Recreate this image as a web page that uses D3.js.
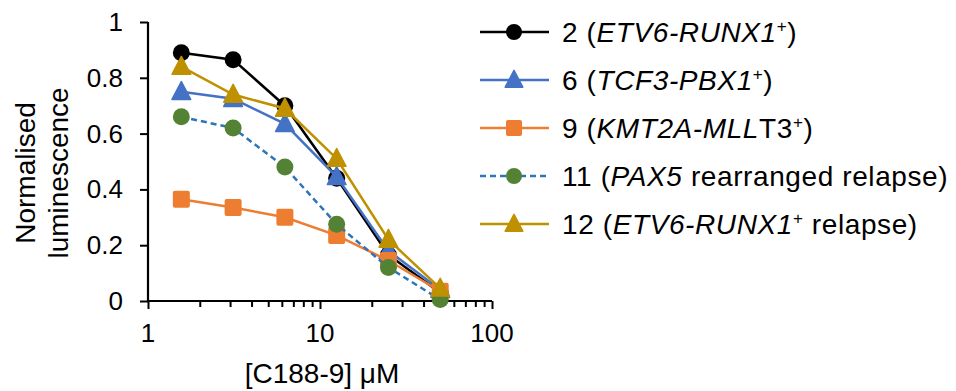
<!DOCTYPE html>
<html>
<head>
<meta charset="utf-8">
<script src="https://cdn.jsdelivr.net/npm/d3@7"></script>
<style>
  body { margin: 0; background: #fff; }
  text { font-family: Arial, "Liberation Sans", sans-serif; fill: #000; }
</style>
</head>
<body>
<div id="chart"></div>
<script>
// concentrations (uM)
var conc = [1.5625, 3.125, 6.25, 12.5, 25, 50];

var s2  = [0.89, 0.865, 0.70, 0.44, 0.165, 0.03];
var s6  = [0.75, 0.725, 0.635, 0.445, 0.18, 0.04];
var s9  = [0.365, 0.335, 0.30, 0.235, 0.145, 0.035];
var s11 = [0.66, 0.62, 0.48, 0.275, 0.12, 0.005];
var s12 = [0.84, 0.74, 0.69, 0.51, 0.22, 0.045];

var yTicks = [0, 0.2, 0.4, 0.6, 0.8, 1];
var xTicks = [1, 10, 100];

// legend label pieces: [text, italic?, superscript?]
var series = [
  {vals: s2,  line: "#000000", fill: "#000000", marker: "circle",   dash: null,
   label: [["2 (", 0], ["ETV6-RUNX1", 1], ["+", 0, 1], [")", 0]]},
  {vals: s6,  line: "#4472C4", fill: "#4472C4", marker: "triangle", dash: null,
   label: [["6 (", 0], ["TCF3-PBX1", 1], ["+", 0, 1], [")", 0]]},
  {vals: s9,  line: "#ED7D31", fill: "#ED7D31", marker: "square",   dash: null,
   label: [["9 (", 0], ["KMT2A-MLL", 1], ["T3", 0], ["+", 0, 1], [")", 0]]},
  {vals: s11, line: "#2E75B6", fill: "#548235", marker: "circle",   dash: "6,4",
   label: [["11 (", 0], ["PAX5", 1], [" rearranged relapse)", 0]]},
  {vals: s12, line: "#BF9000", fill: "#BF9000", marker: "triangle", dash: null,
   label: [["12 (", 0], ["ETV6-RUNX1", 1], ["+", 0, 1], [" relapse)", 0]]}
];

var W = 956, H = 391;
var svg = d3.select("#chart").append("svg")
    .attr("width", W).attr("height", H);

var x = d3.scaleLog().domain([1, 100]).range([148, 492]);
var y = d3.scaleLinear().domain([0, 1]).range([301, 22]);

// y axis (ticks from d3, labels drawn separately)
var yAxis = svg.append("g")
    .attr("transform", "translate(148,0)")
    .call(d3.axisLeft(y).tickValues(yTicks).tickFormat("").tickSize(8));
yAxis.select(".domain").attr("stroke-width", 2.2).attr("d", "M0," + y(1) + "V" + y(0));
yAxis.selectAll(".tick line").attr("stroke-width", 2);
yAxis.selectAll(".tick text").remove();

svg.append("g").selectAll("text")
    .data(yTicks).enter().append("text")
    .attr("x", 123)
    .attr("y", function(d) { return y(d) + 9; })
    .attr("text-anchor", "end")
    .style("font-size", "26px")
    .text(function(d) { return d3.format("")(d); });

// x axis
var minor = [];
[1, 10].forEach(function(d) { for (var i = 2; i <= 9; i++) minor.push(d * i); });
var xMinor = svg.append("g")
    .attr("transform", "translate(0,301)")
    .call(d3.axisBottom(x).tickValues(minor).tickFormat("").tickSize(6));
xMinor.select(".domain").remove();
xMinor.selectAll(".tick line").attr("stroke-width", 2);

var xAxis = svg.append("g")
    .attr("transform", "translate(0,301)")
    .call(d3.axisBottom(x).tickValues(xTicks).tickFormat("").tickSize(8));
xAxis.select(".domain").attr("stroke-width", 2.2).attr("d", "M" + x(1) + ",0H" + x(100));
xAxis.selectAll(".tick line").attr("stroke-width", 2);
xAxis.selectAll(".tick text").remove();

svg.append("g").selectAll("text")
    .data(xTicks).enter().append("text")
    .attr("x", function(d) { return x(d); })
    .attr("y", 342)
    .attr("text-anchor", "middle")
    .style("font-size", "26px")
    .text(function(d) { return d; });

// axis titles
svg.append("text")
    .attr("x", 322).attr("y", 383)
    .attr("text-anchor", "middle")
    .style("font-size", "28px")
    .text("[C188-9] \u03BCM");

var yt = svg.append("text")
    .attr("transform", "translate(35,173) rotate(-90)")
    .attr("text-anchor", "middle")
    .style("font-size", "28px");
yt.append("tspan").attr("x", 0).attr("dy", 0).text("Normalised");
yt.append("tspan").attr("x", 0).attr("dy", 33).text("luminescence");

function drawMarker(g, type, color, size) {
  if (type === "circle") {
    g.append("circle").attr("r", size / 2).attr("fill", color);
  } else if (type === "square") {
    g.append("rect").attr("x", -size / 2).attr("y", -size / 2)
      .attr("width", size).attr("height", size).attr("rx", 2).attr("fill", color);
  } else {
    var h = size * 1.0;
    g.append("path")
      .attr("d", "M0," + (-h * 0.6) + "L" + (size * 0.55) + "," + (h * 0.45) + "L" + (-size * 0.55) + "," + (h * 0.45) + "Z")
      .attr("fill", color).attr("stroke", color).attr("stroke-width", 1.5).attr("stroke-linejoin", "round");
  }
}

var line = d3.line()
    .x(function(d, i) { return x(conc[i]); })
    .y(function(d) { return y(d); });

series.forEach(function(s) {
  var g = svg.append("g");
  g.append("path")
    .datum(s.vals)
    .attr("d", line)
    .attr("fill", "none")
    .attr("stroke", s.line)
    .attr("stroke-width", 2.5)
    .attr("stroke-dasharray", s.dash);
  s.vals.forEach(function(v, i) {
    var m = g.append("g").attr("transform", "translate(" + x(conc[i]) + "," + y(v) + ")");
    drawMarker(m, s.marker, s.fill, 17);
  });
});

// legend
var leg = svg.append("g");
series.forEach(function(s, i) {
  var cy = 32 + i * 48;
  var row = leg.append("g").attr("transform", "translate(0," + cy + ")");
  row.append("line")
    .attr("x1", 480).attr("x2", 549).attr("y1", 0).attr("y2", 0)
    .attr("stroke", s.line).attr("stroke-width", 2.5)
    .attr("stroke-dasharray", s.dash);
  var m = row.append("g").attr("transform", "translate(514,0)");
  drawMarker(m, s.marker, s.fill, 16);
  var t = row.append("text").attr("x", 562).attr("y", 10)
    .style("font-size", "28px").style("letter-spacing", "0.6px");
  s.label.forEach(function(p) {
    var ts = t.append("tspan").text(p[0]);
    if (p[1]) ts.style("font-style", "italic");
    if (p[2]) ts.style("font-size", "17px").attr("dy", -10);
    else if (ts.node().previousSibling && d3.select(ts.node().previousSibling).attr("dy")) ts.attr("dy", 10);
  });
});
</script>
</body>
</html>
